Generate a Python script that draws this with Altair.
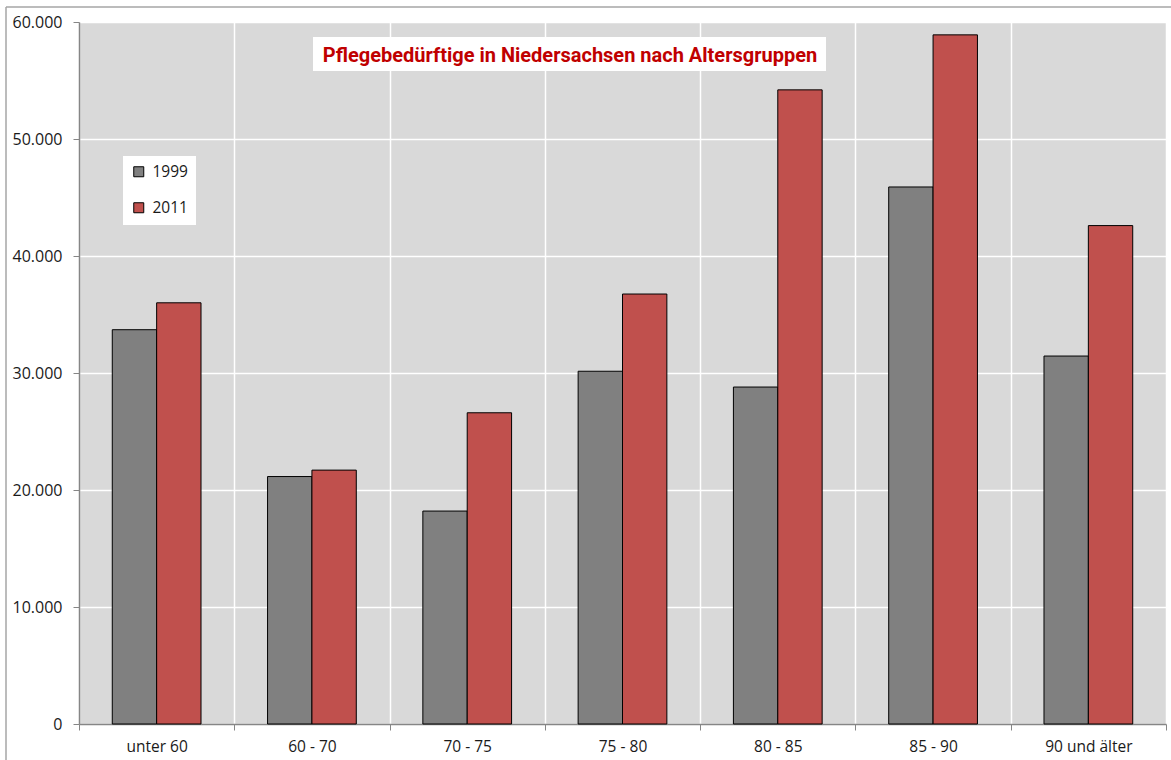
import altair as alt
import pandas as pd

categories = ["unter 60", "60 - 70", "70 - 75", "75 - 80", "80 - 85", "85 - 90", "90 und älter"]
years = ["1999", "2011"]
values_1999 = [33700, 21150, 18200, 30150, 28800, 45900, 31450]
values_2011 = [36000, 21700, 26600, 36750, 54200, 58900, 42600]
title_text = "Pflegebedürftige in Niedersachsen nach Altersgruppen"

rows = []
for c, a, b in zip(categories, values_1999, values_2011):
    rows.append({"group": c, "year": "1999", "value": a})
    rows.append({"group": c, "year": "2011", "value": b})
df = pd.DataFrame(rows)

W, H = 1087, 702
FONT = "Open Sans"
FS = 15.5

bars = alt.Chart(df).mark_bar(stroke="black", strokeWidth=1).encode(
    x=alt.X("group:N", sort=categories,
            scale=alt.Scale(paddingInner=0, paddingOuter=0),
            axis=alt.Axis(title=None, labelAngle=0, tickBand="extent", grid=True,
                          gridColor="white", gridWidth=1.5,
                          domainColor="#868686", domainWidth=1.5,
                          tickColor="#868686", tickSize=6, tickWidth=1,
                          labelPadding=9, labelFont=FONT, labelFontSize=FS,
                          labelColor="#1a1a1a")),
    xOffset=alt.XOffset("year:N", scale=alt.Scale(paddingOuter=0.75, paddingInner=0)),
    y=alt.Y("value:Q", scale=alt.Scale(domain=[0, 60000], nice=False),
            axis=alt.Axis(title=None, values=[0, 10000, 20000, 30000, 40000, 50000, 60000],
                          labelExpr="replace(format(datum.value, ','), ',', '.')",
                          gridColor="white", gridWidth=1.5,
                          domainColor="#868686", domainWidth=1.5,
                          tickColor="#868686", tickSize=6, tickWidth=1,
                          labelPadding=11, labelFont=FONT, labelFontSize=16,
                          labelColor="#1a1a1a")),
    color=alt.Color("year:N", scale=alt.Scale(domain=years, range=["#808080", "#c0504d"]),
                    legend=alt.Legend(title=None, orient="none", legendX=44, legendY=134,
                                      fillColor="white", padding=8, symbolType="square",
                                      symbolSize=100, symbolStrokeColor="black",
                                      symbolStrokeWidth=1, labelFont=FONT, labelFontSize=FS,
                                      labelColor="#1a1a1a", rowPadding=19, labelOffset=6)),
)

title_box = alt.Chart().mark_rect(color="white").encode(
    x=alt.value(234), x2=alt.value(747), y=alt.value(15), y2=alt.value(49))
title = alt.Chart().mark_text(text=title_text, font="Roboto", fontWeight="bold",
                              fontSize=20, color="#c00000", align="center",
                              baseline="middle").encode(x=alt.value(491), y=alt.value(34))

frame_top = alt.Chart().mark_rule(color="#a6a6a6", strokeWidth=1.5).encode(
    x=alt.value(-73), x2=alt.value(1200), y=alt.value(-15))
frame_left = alt.Chart().mark_rule(color="#a6a6a6", strokeWidth=1.5).encode(
    x=alt.value(-73), y=alt.value(-15), y2=alt.value(800))

chart = alt.layer(bars, title_box, title, frame_top, frame_left).properties(
    width=W, height=H, autosize="none",
    padding={"left": 79, "top": 22, "right": 5, "bottom": 36},
    background="white",
).configure_view(fill="#d9d9d9", stroke=None)

chart.save("out.html", embed_options={"renderer": "svg", "actions": False})
